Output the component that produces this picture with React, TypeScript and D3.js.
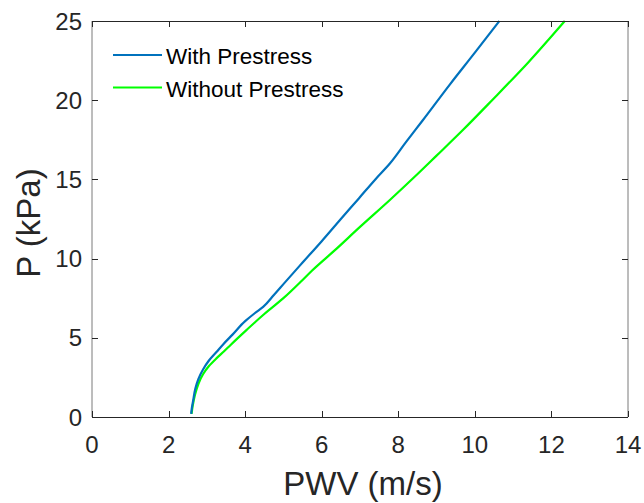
import { useEffect, useRef } from 'react';
import * as d3 from 'd3';

// With Prestress (blue)
const withPwv = [2.59, 2.61, 2.64, 2.7, 2.78, 2.9, 3.05, 3.25, 3.43, 3.67, 4.0, 4.25, 4.47, 4.75, 5.04, 5.5, 6.0, 6.5, 6.97, 7.4, 7.78, 8.2, 8.63, 9.35, 10.0, 10.64];
const withP = [0.2, 0.6, 1.0, 1.8, 2.4, 3.0, 3.55, 4.1, 4.6, 5.2, 6.05, 6.55, 6.95, 7.7, 8.5, 9.75, 11.1, 12.5, 13.8, 15.0, 16.0, 17.35, 18.7, 21.0, 23.0, 25.0];

// Without Prestress (green)
const withoutPwv = [2.6, 2.63, 2.69, 2.78, 2.9, 3.05, 3.25, 3.45, 3.62, 4.04, 4.5, 5.0, 5.48, 5.75, 6.33, 7.0, 7.78, 8.4, 9.0, 9.68, 10.45, 11.4, 12.35];
const withoutP = [0.2, 0.7, 1.4, 2.1, 2.7, 3.2, 3.7, 4.15, 4.55, 5.5, 6.5, 7.5, 8.6, 9.25, 10.5, 12.0, 13.7, 15.1, 16.5, 18.1, 20.0, 22.4, 25.0];

const xTicks = [0, 2, 4, 6, 8, 10, 12, 14];
const yTicks = [0, 5, 10, 15, 20, 25];
const seriesNames = ['With Prestress', 'Without Prestress'];
const seriesColors = ['#0072BD', '#00FF00'];

const App = () => {
	const ref = useRef<SVGSVGElement>(null);

	useEffect(() => {
		const margin = { top: 21, right: 16, bottom: 86, left: 92 },
			width = 644,
			height = 503;
		const svg = d3.select(ref.current);
		svg.selectAll('*').remove();

		const x = d3.scaleLinear().domain([0, 14]).range([margin.left, width - margin.right]);
		const y = d3.scaleLinear().domain([0, 25]).range([height - margin.bottom, margin.top]);
		const font = 'Liberation Sans, Arial, Helvetica, sans-serif';
		const textColor = '#262626';
		const tickLen = 6;

		const x0 = x(0), x1 = x(14), y0 = y(0), y1 = y(25);
		svg.append('rect').attr('x', x0).attr('y', y1).attr('width', x1 - x0).attr('height', y0 - y1).attr('fill', '#fff');

		// curves
		const series = [
			withPwv.map((v, i) => [v, withP[i]] as [number, number]),
			withoutPwv.map((v, i) => [v, withoutP[i]] as [number, number]),
		];
		const line = d3
			.line<[number, number]>()
			.x((d) => x(d[0]))
			.y((d) => y(d[1]))
			.curve(d3.curveMonotoneY);

		// green first so blue sits on top
		[1, 0].forEach((i) => {
			svg
				.append('path')
				.datum(series[i])
				.attr('fill', 'none')
				.attr('stroke', seriesColors[i])
				.attr('stroke-width', 2.2)
				.attr('d', line);
		});

		// box
		const ax = svg.append('g').attr('fill', 'none');
		ax.append('line').attr('x1', x0).attr('x2', x1).attr('y1', y0 + 0.5).attr('y2', y0 + 0.5).attr('stroke', textColor);
		ax.append('line').attr('x1', x0).attr('x2', x1).attr('y1', y1 + 0.5).attr('y2', y1 + 0.5).attr('stroke', textColor);
		ax.append('line').attr('x1', x0).attr('x2', x0).attr('y1', y1).attr('y2', y0).attr('stroke', '#7a7a7a');
		ax.append('line').attr('x1', x1).attr('x2', x1).attr('y1', y1).attr('y2', y0).attr('stroke', '#7a7a7a');

		// x ticks
		xTicks.forEach((t) => {
			const px = Math.round(x(t)) + 0.5;
			ax.append('line').attr('x1', px).attr('x2', px).attr('y1', y0).attr('y2', y0 - tickLen).attr('stroke', textColor);
			ax.append('line').attr('x1', px).attr('x2', px).attr('y1', y1).attr('y2', y1 + tickLen).attr('stroke', textColor);
			svg
				.append('text')
				.attr('x', x(t))
				.attr('y', y0 + 36)
				.attr('text-anchor', 'middle')
				.attr('font-family', font)
				.attr('font-size', 24)
				.attr('fill', textColor)
				.text(t);
		});

		// y ticks
		yTicks.forEach((t) => {
			const py = Math.round(y(t)) + 0.5;
			ax.append('line').attr('x1', x0).attr('x2', x0 + tickLen).attr('y1', py).attr('y2', py).attr('stroke', textColor);
			ax.append('line').attr('x1', x1).attr('x2', x1 - tickLen).attr('y1', py).attr('y2', py).attr('stroke', textColor);
			svg
				.append('text')
				.attr('x', x0 - 10)
				.attr('y', y(t))
				.attr('dy', '0.36em')
				.attr('text-anchor', 'end')
				.attr('font-family', font)
				.attr('font-size', 24)
				.attr('fill', textColor)
				.text(t);
		});

		// axis labels
		svg
			.append('text')
			.attr('x', (x0 + x1) / 2 + 3)
			.attr('y', 495)
			.attr('text-anchor', 'middle')
			.attr('font-family', font)
			.attr('font-size', 33)
			.attr('fill', textColor)
			.text('PWV (m/s)');

		svg
			.append('text')
			.attr('transform', `translate(40, ${(y0 + y1) / 2 + 4}) rotate(-90)`)
			.attr('text-anchor', 'middle')
			.attr('font-family', font)
			.attr('font-size', 33)
			.attr('fill', textColor)
			.text('P (kPa)');

		// legend
		const legend = svg.append('g');
		seriesNames.forEach((name, i) => {
			const ly = 55 + i * 32.5;
			legend
				.append('line')
				.attr('x1', 113)
				.attr('x2', 162)
				.attr('y1', ly)
				.attr('y2', ly)
				.attr('stroke', seriesColors[i])
				.attr('stroke-width', 2.2);
			legend
				.append('text')
				.attr('x', 166)
				.attr('y', ly + 9)
				.attr('font-family', font)
				.attr('font-size', 22.5)
				.attr('fill', '#000')
				.text(name);
		});
	}, []);

	return <svg ref={ref} width={644} height={503} style={{ position: 'absolute', left: 0, top: 0, background: '#fff' }}></svg>;
};

export default App;
